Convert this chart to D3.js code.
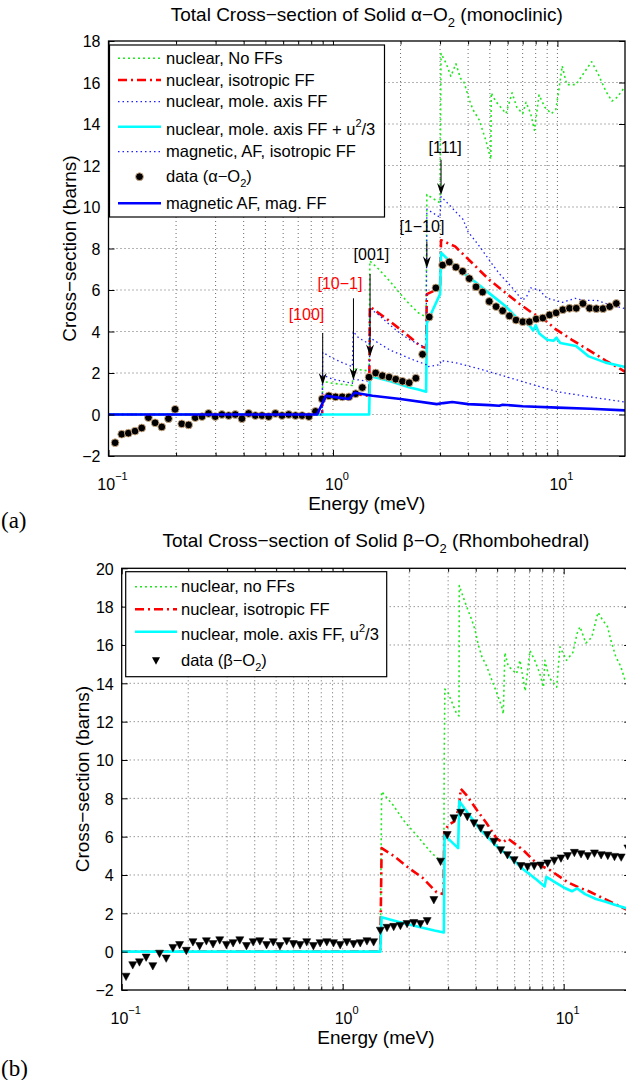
<!DOCTYPE html>
<html><head><meta charset="utf-8">
<script src="https://cdn.jsdelivr.net/npm/d3@7"></script>
<style>
body{margin:0;background:#fff;}
svg{display:block;font-family:"Liberation Sans",Arial,Helvetica,sans-serif;}
</style></head><body>
<svg id="chart" width="626" height="1080"></svg>
<script>
// ---------------- DATA ----------------
const xMajor = [0.1, 1, 10];
const xExp = ["\u22121", "0", "1"];
const xMinor = [0.2,0.3,0.4,0.5,0.6,0.7,0.8,0.9,2,3,4,5,6,7,8,9];
const yTicksA = [-2,0,2,4,6,8,10,12,14,16,18];
const yTicksB = [-2,0,2,4,6,8,10,12,14,16,18,20];

// Panel (a): alpha-O2
const greenA = [[0.1,0],[0.895,0],[0.9,1.6],[1.0,1.5],[1.22,1.4],[1.23,2.2],[1.45,2.1],[1.46,7.4],[1.6,7.0],[1.8,6.4],[2.0,5.8],[2.2,5.3],[2.4,4.9],[2.6,4.7],[2.62,10.6],[2.8,10.4],[3.0,10.2],[3.03,17.4],[3.2,16.9],[3.35,16.3],[3.53,16.9],[3.7,16.2],[3.84,16.0],[4.04,15.2],[4.2,14.7],[4.48,14.2],[4.8,13.2],[5.05,12.3],[5.07,15.5],[5.3,15.1],[5.5,14.9],[5.9,14.5],[6.28,15.5],[6.6,14.8],[7.0,14.5],[7.25,15.05],[7.6,14.5],[7.9,13.7],[8.28,15.4],[8.8,14.8],[9.4,14.5],[9.84,14.7],[10.2,15.8],[10.5,16.8],[11.0,15.9],[12.1,15.9],[13.0,16.4],[14.2,17.0],[15.2,16.4],[16.4,15.6],[17.5,15.1],[18.5,15.3],[20,15.8]];
const redA = [[0.1,0],[0.895,0],[0.9,0.9],[1.22,0.8],[1.23,1.0],[1.45,0.9],[1.46,5.2],[1.84,4.4],[2.19,3.75],[2.45,3.3],[2.6,3.2],[2.62,5.8],[3.0,6.1],[3.03,8.4],[3.5,8.1],[4.17,7.3],[4.96,6.5],[5.9,5.85],[6.74,5.35],[7.7,4.9],[8.9,4.5],[9.85,4.1],[11.6,3.6],[13.8,3.1],[16.4,2.6],[19.4,2.15],[20,2.05]];
const moleA = [[0.1,0],[0.895,0],[0.9,3.0],[1.0,2.7],[1.1,2.5],[1.22,2.3],[1.23,4.0],[1.3,3.7],[1.45,3.4],[1.46,5.1],[1.6,4.8],[1.8,4.3],[2.0,3.9],[2.2,3.6],[2.4,3.4],[2.6,3.2],[2.62,9.9],[2.8,9.7],[3.0,9.5],[3.03,10.5],[3.3,10.1],[3.5,9.8],[3.8,9.4],[4.0,8.8],[4.5,8.1],[5.0,7.4],[5.5,6.8],[6.3,6.1],[7.0,5.5],[7.3,5.7],[7.6,6.1],[8.3,6.0],[9.0,5.6],[9.8,5.5],[10.5,5.4],[12,5.6],[13,5.5],[15,5.5],[17,5.3],[20,5.1]];
const cyanA = [[0.1,0],[1.45,0],[1.46,1.85],[1.6,1.75],[1.8,1.6],[2.0,1.45],[2.2,1.3],[2.4,1.2],[2.6,1.1],[2.62,4.4],[2.8,5.1],[3.0,5.8],[3.03,7.8],[3.3,7.4],[3.53,7.1],[4.17,6.5],[4.96,5.85],[5.9,5.2],[6.74,4.55],[7.5,4.3],[7.8,4.05],[8.0,4.3],[8.3,3.9],[9.0,3.6],[9.6,3.55],[9.9,3.7],[10.3,3.45],[12.1,3.3],[13.8,2.8],[16.4,2.5],[19.8,2.3],[20,2.28]];
const magIsoA = [[0.1,0],[0.895,0],[0.9,1.9],[1.0,1.7],[1.22,1.5],[1.23,1.7],[1.45,1.6],[1.46,3.7],[1.8,3.1],[2.2,2.7],[2.6,2.4],[2.62,2.3],[3.0,2.4],[3.03,2.6],[3.5,2.5],[4.5,2.2],[6,1.8],[8,1.4],[10,1.1],[13,0.9],[20,0.6]];
const magA = [[0.1,0],[0.85,0],[0.93,0.9],[1.0,0.85],[1.18,0.75],[1.25,1.05],[1.5,0.9],[2.0,0.75],[2.9,0.5],[3.1,0.55],[3.4,0.6],[4,0.5],[5,0.45],[5.5,0.42],[5.7,0.47],[7,0.4],[10,0.33],[14,0.28],[20,0.2]];
const dataA_E = [0.107,0.1145,0.1226,0.1313,0.1406,0.1506,0.1613,0.1727,0.185,0.198,0.212,0.2275,0.2435,0.261,0.279,0.299,0.320,0.343,0.367,0.393,0.421,0.451,0.483,0.517,0.554,0.593,0.635,0.681,0.729,0.781,0.836,0.895,0.959,1.027,1.10,1.178,1.262,1.351,1.447,1.55,1.66,1.778,1.904,2.04,2.185,2.34,2.506,2.684,2.874,3.078,3.297,3.531,3.78,4.05,4.34,4.64,4.97,5.33,5.70,6.11,6.54,7.01,7.50,8.04,8.61,9.22,9.87,10.57,11.32,12.13,12.99,13.91,14.9,15.96,17.09,18.3];
const dataA_v = [-1.36,-0.95,-0.9,-0.8,-0.65,-0.15,-0.4,-0.6,-0.2,0.25,-0.45,-0.5,-0.15,-0.1,0.05,-0.1,0.0,-0.05,0.0,-0.2,0.05,-0.05,-0.05,-0.1,0.05,-0.05,0.0,-0.05,-0.05,-0.1,0.15,0.75,0.9,0.85,0.85,0.85,1.0,1.3,1.8,2.0,1.87,1.8,1.7,1.6,1.53,1.75,2.9,4.7,6.1,7.2,7.35,7.1,6.9,6.55,6.15,5.9,5.45,5.2,5.0,4.75,4.55,4.47,4.47,4.6,4.65,4.8,4.9,5.05,5.12,5.12,5.35,5.12,5.1,5.1,5.2,5.35];
// Bragg-edge annotations
const annLabels = ["[100]","[10\u22121]","[001]","[1\u221210]","[111]"];
const annColors = ["red","red","black","black","black"];
const annE = [0.90,1.234,1.463,2.62,3.03];
const annTop = [3.93,5.6,6.77,8.33,12.27];
const annTip = [1.42,1.66,2.79,7.05,10.58];
const annLabelE = [0.762,1.074,1.483,2.49,3.16];
const annLabelV = [4.55,6.05,7.45,8.81,12.6];

// Panel (b): beta-O2
const greenB = [[0.1,0],[1.48,0],[1.5,8.35],[1.69,7.65],[1.88,6.87],[2.09,6.26],[2.32,5.65],[2.53,5.13],[2.76,4.78],[2.87,4.7],[2.88,10.2],[2.9,13.7],[3.0,13.5],[3.15,12.9],[3.28,12.4],[3.36,12.3],[3.37,19.1],[3.51,18.5],[3.64,18.0],[3.84,17.3],[3.97,16.8],[4.11,16.0],[4.26,15.4],[4.48,14.9],[4.72,14.2],[4.98,13.5],[5.24,12.8],[5.33,12.4],[5.42,15.6],[5.61,14.9],[6.12,14.5],[6.34,15.2],[6.7,13.6],[7.04,15.7],[7.4,15.2],[7.8,14.5],[8.1,13.8],[8.22,15.2],[8.6,14.3],[9.3,13.8],[9.62,15.9],[10.3,15.2],[11.0,15.6],[11.5,16.6],[11.85,16.95],[12.6,16.1],[13.4,16.4],[14.3,17.7],[15.0,17.3],[15.8,16.95],[16.3,16.3],[17.2,15.4],[18.1,14.9],[18.9,14.2],[20,13.8]];
const redB = [[0.1,0],[1.48,0],[1.5,5.4],[1.7,5.0],[2.0,4.35],[2.3,3.85],[2.66,3.1],[2.86,3.0],[2.88,6.2],[3.0,6.6],[3.2,6.8],[3.36,7.5],[3.42,8.5],[3.64,8.15],[4.04,7.4],[4.48,6.7],[4.98,5.9],[5.3,5.7],[5.6,5.9],[6.56,5.3],[7.55,4.6],[8.67,4.25],[9.62,3.9],[10.5,3.6],[12,3.3],[13,3.15],[15,2.8],[17,2.5],[20,2.1]];
const cyanB = [[0.1,0],[1.48,0],[1.5,1.8],[1.8,1.55],[2.2,1.3],[2.6,1.1],[2.87,1.0],[2.89,6.1],[3.0,5.9],[3.33,5.4],[3.37,7.85],[3.7,7.2],[4.2,6.35],[4.98,5.5],[5.9,4.8],[6.56,4.3],[7.55,3.75],[8.2,3.4],[8.35,3.9],[9.2,3.6],[10.0,3.35],[10.9,3.15],[11.5,3.3],[12.5,3.0],[14.0,2.75],[15.5,2.6],[17,2.45],[20,2.2]];
const dataB_E = [0.1046,0.1122,0.1203,0.1290,0.1383,0.1483,0.1590,0.1705,0.1828,0.1960,0.2101,0.2253,0.2416,0.2590,0.2777,0.2978,0.3193,0.3423,0.3670,0.3935,0.4220,0.4524,0.4851,0.5201,0.5577,0.5980,0.6411,0.6874,0.7371,0.7903,0.8474,0.9085,0.9741,1.0445,1.1199,1.2008,1.2875,1.3804,1.4801,1.5870,1.7016,1.8244,1.9562,2.0974,2.2488,2.4112,2.5853,2.7720,2.9721,3.1867,3.4168,3.6635,3.9280,4.2116,4.5157,4.8417,5.1913,5.5661,5.9680,6.3989,6.8609,7.3563,7.8874,8.4569,9.0675,9.7222,10.424,11.177,11.984,12.849,13.777,14.771,15.838,16.981,18.208,19.522];
const dataB_v = [-1.3,-0.7,-0.55,-0.3,-0.75,-0.1,-0.35,0.2,0.35,0.05,0.5,0.3,0.55,0.4,0.6,0.35,0.45,0.6,0.3,0.5,0.55,0.35,0.5,0.3,0.55,0.4,0.35,0.5,0.3,0.45,0.5,0.45,0.35,0.5,0.4,0.45,0.55,0.5,1.1,1.25,1.3,1.35,1.45,1.5,1.45,1.6,2.7,4.7,6.09,6.96,7.25,7.04,6.7,6.44,6.09,5.74,5.3,5.04,4.78,4.47,4.43,4.47,4.5,4.61,4.75,4.87,4.99,5.16,5.09,4.99,5.13,5.04,5.01,4.95,4.92,5.39];

// ---------------- STYLES ----------------
const ST = {
  green:{stroke:"#1fe81f", width:1.6, dash:"2,3"},
  red:{stroke:"#ff0000", width:2.6, dash:"9,4,2,4"},
  bdot:{stroke:"#2020ff", width:1.3, dash:"1.5,3"},
  cyan:{stroke:"#00ffff", width:2.6, dash:null},
  blue:{stroke:"#0000ff", width:2.6, dash:null}
};
const TRI = "M-4,-3.4L4,-3.4L0,4Z";
const svg = d3.select("#chart");
const FONT = "'Liberation Sans', Arial, Helvetica, sans-serif";

function drawPanel(cfg){
  const x = d3.scaleLog().domain([0.1,20]).range([cfg.left,cfg.right]);
  const y = d3.scaleLinear().domain(cfg.yDomain).range([cfg.bottom,cfg.top]);
  const g = svg.append("g");
  const clipId = "clip"+cfg.id;
  svg.append("clipPath").attr("id",clipId).append("rect")
    .attr("x",cfg.left).attr("y",cfg.top).attr("width",cfg.right-cfg.left).attr("height",cfg.bottom-cfg.top);
  const grid = g.append("g").attr("stroke","#222").attr("stroke-width",0.9).attr("stroke-dasharray","1,3").attr("opacity",0.75);
  grid.selectAll("line.gx").data(xMinor.concat([1,10])).join("line").attr("class","gx")
    .attr("x1",d=>x(d)).attr("x2",d=>x(d)).attr("y1",cfg.top).attr("y2",cfg.bottom);
  grid.selectAll("line.gy").data(cfg.yTicks.filter(v=>v>cfg.yDomain[0]&&v<cfg.yDomain[1])).join("line").attr("class","gy")
    .attr("x1",cfg.left).attr("x2",cfg.right).attr("y1",d=>y(d)).attr("y2",d=>y(d));
  const sg = g.append("g").attr("clip-path",`url(#${clipId})`);
  const line = d3.line().x(d=>x(d[0])).y(d=>y(d[1]));
  cfg.series.forEach(s=>{
    if(s.data){
      const st = ST[s.style];
      sg.append("path").attr("d",line(s.data)).attr("fill","none")
        .attr("stroke",st.stroke).attr("stroke-width",st.width)
        .attr("stroke-dasharray",st.dash).attr("stroke-linejoin","round");
    }
    if(s.markersE){
      const pts = s.markersE.map((e,i)=>[e,s.markersV[i]]);
      if(s.marker==="dot"){
        sg.selectAll(null).data(pts).join("circle").attr("cx",d=>x(d[0])).attr("cy",d=>y(d[1]))
          .attr("r",3.9).attr("fill","#000").attr("stroke","#d9b68c").attr("stroke-width",0.9);
      } else {
        sg.selectAll(null).data(pts).join("path")
          .attr("transform",d=>`translate(${x(d[0])},${y(d[1])})`)
          .attr("d",TRI).attr("fill","#000").attr("stroke","#000").attr("stroke-width",0.5);
      }
    }
  });
  const styleAxis = a=>{ a.select(".domain").remove(); a.selectAll(".tick line").attr("stroke","#000");
    a.selectAll("text").attr("font-size",16).attr("font-family",FONT).attr("fill","#000"); };
  g.append("g").attr("transform",`translate(0,${cfg.bottom})`).call(d3.axisBottom(x).tickValues(xMajor).tickSizeInner(-6).tickSizeOuter(0).tickFormat("")).call(styleAxis);
  g.append("g").attr("transform",`translate(0,${cfg.bottom})`).call(d3.axisBottom(x).tickValues(xMinor).tickSizeInner(-3.5).tickSizeOuter(0).tickFormat("")).call(styleAxis);
  g.append("g").attr("transform",`translate(0,${cfg.top})`).call(d3.axisTop(x).tickValues(xMajor).tickSizeInner(-6).tickSizeOuter(0).tickFormat("")).call(styleAxis);
  g.append("g").attr("transform",`translate(0,${cfg.top})`).call(d3.axisTop(x).tickValues(xMinor).tickSizeInner(-3.5).tickSizeOuter(0).tickFormat("")).call(styleAxis);
  g.append("g").attr("transform",`translate(${cfg.left},0)`).call(d3.axisLeft(y).tickValues(cfg.yTicks).tickSizeInner(-6).tickSizeOuter(0).tickPadding(8)
    .tickFormat(d=>d<0?"\u2212"+Math.abs(d):String(d))).call(styleAxis);
  g.append("g").attr("transform",`translate(${cfg.right},0)`).call(d3.axisRight(y).tickValues(cfg.yTicks).tickSizeInner(-6).tickSizeOuter(0).tickFormat("")).call(styleAxis);
  g.selectAll(".tick text").attr("dy","0.36em");
  g.append("rect").attr("x",cfg.left).attr("y",cfg.top).attr("width",cfg.right-cfg.left).attr("height",cfg.bottom-cfg.top)
    .attr("fill","none").attr("stroke","#000").attr("stroke-width",1.3);
  xMajor.forEach((v,i)=>{
    const t = g.append("text").attr("x",x(v)+4).attr("y",cfg.bottom+34).attr("text-anchor","middle")
      .attr("font-size",16).attr("font-family",FONT);
    t.append("tspan").text("10");
    t.append("tspan").attr("dy",-10).attr("font-size",11).text(xExp[i]);
  });
  g.append("text").attr("x",(cfg.left+cfg.right)/2).attr("y",cfg.bottom+54).attr("text-anchor","middle")
    .attr("font-size",19).attr("font-family",FONT).text("Energy (meV)");
  g.append("text").attr("transform",`translate(${cfg.left-33},${(cfg.top+cfg.bottom)/2}) rotate(-90)`)
    .attr("text-anchor","middle").attr("font-size",19).attr("font-family",FONT).text("Cross\u2212section (barns)");
  const tt = g.append("text").attr("x",(cfg.left+cfg.right)/2).attr("y",cfg.titleY).attr("text-anchor","middle")
    .attr("font-size",19).attr("font-family",FONT);
  tt.append("tspan").text(cfg.title[0]);
  tt.append("tspan").attr("dy",6).attr("font-size",13).text("2");
  tt.append("tspan").attr("dy",-6).text(cfg.title[1]);
  svg.append("text").attr("x",1).attr("y",cfg.tagY).attr("font-size",23).attr("font-family","'Liberation Serif','DejaVu Serif',serif").text(cfg.tag);
  return {x,y,g};
}

const A = drawPanel({id:"a", left:108.5, right:625, top:41, bottom:456, yDomain:[-2,18], yTicks:yTicksA,
  titleY:21, tagY:528, tag:"(a)",
  title:["Total Cross\u2212section of Solid \u03b1\u2212O"," (monoclinic)"],
  series:[
    {style:"green", data:greenA},
    {style:"red", data:redA},
    {style:"bdot", data:moleA},
    {style:"cyan", data:cyanA},
    {style:"bdot", data:magIsoA},
    {markersE:dataA_E, markersV:dataA_v, marker:"dot"},
    {style:"blue", data:magA}
  ]});

annE.forEach((e,i)=>{
  const ax = A.x(e), y0 = A.y(annTop[i]), y1 = A.y(annTip[i]);
  A.g.append("line").attr("x1",ax).attr("x2",ax).attr("y1",y0).attr("y2",y1-4).attr("stroke","#000").attr("stroke-width",1);
  A.g.append("path").attr("d",`M${ax},${y1}L${ax-4},${y1-12}L${ax},${y1-8}L${ax+4},${y1-12}Z`).attr("fill","#000");
  A.g.append("text").attr("x",A.x(annLabelE[i])).attr("y",A.y(annLabelV[i])).attr("text-anchor","middle")
    .attr("font-size",16).attr("font-family",FONT).attr("fill",annColors[i]).text(annLabels[i]);
});

function legend(cfg){
  const lg = svg.append("g");
  lg.append("rect").attr("x",cfg.x).attr("y",cfg.y).attr("width",cfg.w).attr("height",cfg.h)
    .attr("fill","#fff").attr("stroke","#000").attr("stroke-width",1.2);
  cfg.items.forEach(it=>{
    const cy = cfg.y + it.dy;
    if(it.marker==="dot"){
      lg.append("circle").attr("cx",(cfg.s0+cfg.s1)/2).attr("cy",cy).attr("r",3.9).attr("fill","#000").attr("stroke","#d9b68c").attr("stroke-width",0.9);
    } else if(it.marker==="tri"){
      lg.append("path").attr("transform",`translate(${(cfg.s0+cfg.s1)/2},${cy})`).attr("d",TRI).attr("fill","#000");
    } else {
      const st = ST[it.style];
      lg.append("line").attr("x1",cfg.s0).attr("x2",cfg.s1).attr("y1",cy).attr("y2",cy)
        .attr("stroke",st.stroke).attr("stroke-width",st.width).attr("stroke-dasharray",st.dash);
    }
    const t = lg.append("text").attr("x",cfg.tx).attr("y",cy+5.5+(it.tdy||0)).attr("font-size",16.5).attr("font-family",FONT);
    it.parts.forEach(p=>{
      const sp = t.append("tspan").text(p.t);
      if(p.sup){ sp.attr("dy",-8).attr("font-size",11); }
      if(p.afterSup){ sp.attr("dy",8); }
      if(p.sub){ sp.attr("dy",5).attr("font-size",11); }
      if(p.afterSub){ sp.attr("dy",-5); }
    });
  });
}
legend({x:109.5, y:45, w:275, h:172, s0:118, s1:161, tx:166, items:[
  {style:"green", dy:13.3, parts:[{t:"nuclear, No FFs"}]},
  {style:"red", dy:35, parts:[{t:"nuclear, isotropic FF"}]},
  {style:"bdot", dy:56.7, parts:[{t:"nuclear, mole. axis FF"}]},
  {style:"cyan", dy:81.7, tdy:3, parts:[{t:"nuclear, mole. axis FF + u"},{t:"2",sup:true},{t:"/3",afterSup:true}]},
  {style:"bdot", dy:106.7, parts:[{t:"magnetic, AF, isotropic FF"}]},
  {marker:"dot", dy:131.7, parts:[{t:"data (\u03b1\u2212O"},{t:"2",sub:true},{t:")",afterSub:true}]},
  {style:"blue", dy:158.3, parts:[{t:"magnetic AF, mag. FF"}]}
]});

const B = drawPanel({id:"b", left:121.7, right:630.2, top:568.3, bottom:990, yDomain:[-2,20], yTicks:yTicksB,
  titleY:547, tagY:1076, tag:"(b)",
  title:["Total Cross\u2212section of Solid \u03b2\u2212O"," (Rhombohedral)"],
  series:[
    {style:"green", data:greenB},
    {style:"red", data:redB},
    {style:"cyan", data:cyanB},
    {markersE:dataB_E, markersV:dataB_v, marker:"tri"}
  ]});
legend({x:125.7, y:571.7, w:261, h:105, s0:135, s1:177, tx:181, items:[
  {style:"green", dy:15, parts:[{t:"nuclear, no FFs"}]},
  {style:"red", dy:37.6, parts:[{t:"nuclear, isotropic FF"}]},
  {style:"cyan", dy:60, tdy:3, parts:[{t:"nuclear, mole. axis FF, u"},{t:"2",sup:true},{t:"/3",afterSup:true}]},
  {marker:"tri", dy:89, parts:[{t:"data (\u03b2\u2212O"},{t:"2",sub:true},{t:")",afterSub:true}]}
]});
</script></body></html>
